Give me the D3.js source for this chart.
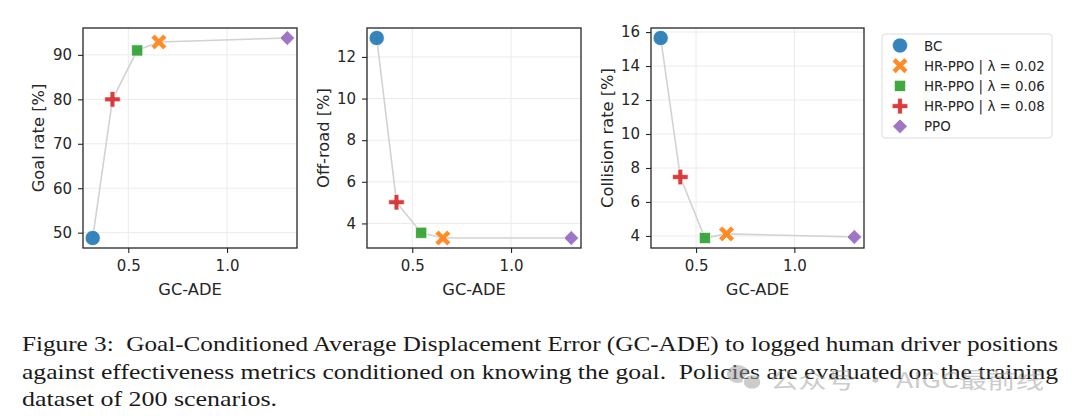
<!DOCTYPE html>
<html>
<head>
<meta charset="utf-8">
<script src="https://cdn.jsdelivr.net/npm/d3@7"></script>
<style>
  html, body { margin: 0; padding: 0; background: #fff; }
  svg { display: block; }
</style>
</head>
<body>
<svg id="chart" width="1080" height="420"></svg>
<script>
// ---------------- DATA ----------------
const methods = ["BC", "HR-PPO | λ = 0.02", "HR-PPO | λ = 0.06", "HR-PPO | λ = 0.08", "PPO"];
const gcade = [0.32, 0.655, 0.545, 0.42, 1.305];
const goalRate = [48.8, 92.9, 91.0, 80.0, 93.8];
const offRoad = [12.91, 3.30, 3.55, 5.02, 3.30];
const collisionRate = [15.65, 4.12, 3.88, 7.47, 3.94];
const lineOrder = [0, 3, 2, 1, 4];
const xTicks = [0.5, 1.0];
const goalTicks = [50, 60, 70, 80, 90];
const offRoadTicks = [4, 6, 8, 10, 12];
const collisionTicks = [4, 6, 8, 10, 12, 14, 16];
const yLabels = ["Goal rate [%]", "Off-road [%]", "Collision rate [%]"];
const xLabel = "GC-ADE";
const captionLines = [
  "Figure 3:  Goal-Conditioned Average Displacement Error (GC-ADE) to logged human driver positions",
  "against effectiveness metrics conditioned on knowing the goal.  Policies are evaluated on the training",
  "dataset of 200 scenarios."
];
const watermark = "公众号 · AIGC最前线";

// ---------------- STYLE ----------------
const colors = ["#1f77b4", "#ff7f0e", "#2ca02c", "#d62728", "#9467bd"];
const markerKinds = ["circle", "x", "square", "plus", "diamond"];
const svg = d3.select("#chart");
const ink = "#262626";

function plusPoly(L, t, rot) {
  const pts = [[t,L],[t,t],[L,t],[L,-t],[t,-t],[t,-L],[-t,-L],[-t,-t],[-L,-t],[-L,t],[-t,t],[-t,L]];
  const c = Math.cos(rot), s = Math.sin(rot);
  return "M" + pts.map(p => [p[0]*c - p[1]*s, p[0]*s + p[1]*c].map(v => v.toFixed(2)).join(",")).join("L") + "Z";
}
function markerPath(kind, scale) {
  const k = scale || 1;
  switch (kind) {
    case "circle": { const r = 7.6*k; return `M${r},0A${r},${r} 0 1,1 ${-r},0A${r},${r} 0 1,1 ${r},0Z`; }
    case "x": return plusPoly(8.6*k, 2.5*k, Math.PI/4);
    case "square": { const h = 5.6*k; return `M${-h},${-h}L${h},${-h}L${h},${h}L${-h},${h}Z`; }
    case "plus": return plusPoly(7.8*k, 2.4*k, 0);
    case "diamond": { const h = 7.4*k; return `M0,${-h}L${h},0L0,${h}L${-h},0Z`; }
  }
}

function pad(vals) {
  const lo = d3.min(vals), hi = d3.max(vals), m = (hi - lo) * 0.05;
  return [lo - m, hi + m];
}

const panels = [
  { left: 83, right: 297, vals: goalRate, ticks: goalTicks, label: yLabels[0], labelX: 38 },
  { left: 367, right: 581, vals: offRoad, ticks: offRoadTicks, label: yLabels[1], labelX: 323 },
  { left: 651, right: 864, vals: collisionRate, ticks: collisionTicks, label: yLabels[2], labelX: 607 }
];
const plotTop = 28, plotBottom = 248;

panels.forEach(p => {
  const x = d3.scaleLinear().domain(pad(gcade)).range([p.left, p.right]);
  const y = d3.scaleLinear().domain(pad(p.vals)).range([plotBottom, plotTop]);
  const g = svg.append("g");

  // grid
  g.selectAll(".gx").data(xTicks).enter().append("line")
    .attr("x1", d => x(d)).attr("x2", d => x(d)).attr("y1", plotTop).attr("y2", plotBottom)
    .attr("stroke", "#ebebeb").attr("stroke-width", 1);
  g.selectAll(".gy").data(p.ticks).enter().append("line")
    .attr("x1", p.left).attr("x2", p.right).attr("y1", d => y(d)).attr("y2", d => y(d))
    .attr("stroke", "#ebebeb").attr("stroke-width", 1);

  // connecting line
  const line = d3.line().x(i => x(gcade[i])).y(i => y(p.vals[i]));
  g.append("path").datum(lineOrder).attr("d", line)
    .attr("fill", "none").attr("stroke", "#d2d2d2").attr("stroke-width", 1.6);

  // markers
  g.selectAll(".m").data(methods.map((m, i) => i)).enter().append("path")
    .attr("d", i => markerPath(markerKinds[i]))
    .attr("transform", i => `translate(${x(gcade[i])},${y(p.vals[i])})`)
    .attr("fill", i => colors[i]).attr("fill-opacity", 0.9)
    .attr("stroke", "#fff").attr("stroke-width", 0.7);

  // axes
  const xa = g.append("g").attr("transform", `translate(0,${plotBottom})`)
    .call(d3.axisBottom(x).tickValues(xTicks).tickFormat(d3.format(".1f")).tickSize(5).tickPadding(7.5));
  const ya = g.append("g").attr("transform", `translate(${p.left},0)`)
    .call(d3.axisLeft(y).tickValues(p.ticks).tickFormat(d3.format("d")).tickSize(5).tickPadding(6));
  [xa, ya].forEach(a => {
    a.select(".domain").remove();
    a.selectAll("line").attr("stroke", ink).attr("stroke-width", 1.1);
    a.selectAll("text").attr("fill", ink).style("font-family", "DejaVu Sans").style("font-size", "15px");
  });

  // frame
  g.append("rect").attr("x", p.left).attr("y", plotTop).attr("width", p.right - p.left).attr("height", plotBottom - plotTop)
    .attr("fill", "none").attr("stroke", ink).attr("stroke-width", 1.3);

  // labels
  g.append("text").attr("x", (p.left + p.right) / 2).attr("y", 295)
    .attr("text-anchor", "middle").attr("fill", ink)
    .style("font-family", "DejaVu Sans").style("font-size", "16.3px").text(xLabel);
  g.append("text").attr("transform", `translate(${p.labelX + 6},${(plotTop + plotBottom) / 2}) rotate(-90)`)
    .attr("text-anchor", "middle").attr("fill", ink)
    .style("font-family", "DejaVu Sans").style("font-size", "16.3px").text(p.label);
});

// legend
const lg = svg.append("g");
lg.append("rect").attr("x", 882).attr("y", 34).attr("width", 170).attr("height", 104).attr("rx", 3)
  .attr("fill", "#fff").attr("stroke", "#dcdcdc").attr("stroke-width", 1);
methods.forEach((m, i) => {
  const cy = 45.5 + i * 20.2;
  lg.append("path").attr("d", markerPath(markerKinds[i], 1.0))
    .attr("transform", `translate(900,${cy})`)
    .attr("fill", colors[i]).attr("fill-opacity", 0.9).attr("stroke", "#fff").attr("stroke-width", 0.7);
  lg.append("text").attr("x", 924).attr("y", cy + 5).attr("fill", ink)
    .style("font-family", "DejaVu Sans").style("font-size", "13.4px").text(m);
});

// caption
const capY = [351, 378.5, 406];
const capLen = [1036, 1036, 255];
captionLines.forEach((t, i) => {
  svg.append("text").attr("x", 22).attr("y", capY[i]).attr("fill", "#1a1a1a")
    .attr("textLength", capLen[i]).attr("lengthAdjust", "spacingAndGlyphs")
    .style("font-family", "Liberation Serif").style("font-size", "21px")
    .style("white-space", "pre").text(t);
});

// watermark (semi-transparent overlay, as in the reference)
const wm = svg.append("g").attr("opacity", 0.5);
wm.append("ellipse").attr("cx", 738).attr("cy", 374).attr("rx", 11).attr("ry", 9).attr("fill", "#9a9a9a");
wm.append("ellipse").attr("cx", 752).attr("cy", 382).attr("rx", 9).attr("ry", 7.5).attr("fill", "#9a9a9a").attr("stroke", "#fff").attr("stroke-width", 1.5);
wm.append("text").attr("x", 770).attr("y", 388).attr("fill", "#9a9a9a")
  .attr("textLength", 274).attr("lengthAdjust", "spacingAndGlyphs")
  .style("font-family", "Noto Sans CJK SC").style("font-size", "22px").text(watermark);
</script>
</body>
</html>
